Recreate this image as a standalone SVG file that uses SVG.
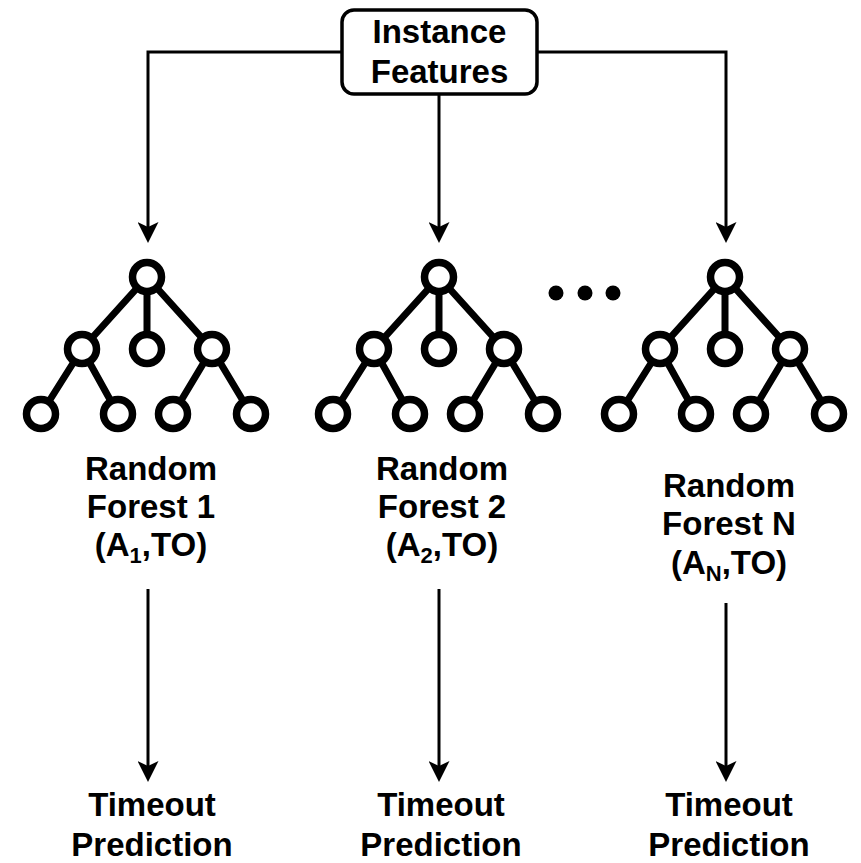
<svg xmlns="http://www.w3.org/2000/svg" xmlns:xlink="http://www.w3.org/1999/xlink" width="861" height="863" viewBox="0 0 861 863">
<style>
.lbl{font-family:"Liberation Sans",Arial,Helvetica,sans-serif;font-weight:bold;font-size:33px;fill:#000;text-anchor:middle}
.sub{font-size:22px}
.conn{fill:none;stroke:#000;stroke-width:3}
.edge{stroke:#000;stroke-width:7;stroke-linecap:round}
.nd{fill:#fff;stroke:#000;stroke-width:7.5}
.box{fill:#fff;stroke:#000;stroke-width:3.5}
</style>
<defs>
<marker id="arr" viewBox="0 0 21 21" markerWidth="21" markerHeight="21" refX="11" refY="10.5" orient="auto" markerUnits="userSpaceOnUse">
<path d="M0,0 L21,10.5 L0,21 L5,10.5 Z" fill="#000"/>
</marker>
<g id="tree">
<line class="edge" x1="0" y1="0" x2="-65" y2="72"/>
<line class="edge" x1="0" y1="0" x2="0" y2="72"/>
<line class="edge" x1="0" y1="0" x2="65" y2="72"/>
<line class="edge" x1="-65" y1="72" x2="-106" y2="137"/>
<line class="edge" x1="-65" y1="72" x2="-29" y2="137"/>
<line class="edge" x1="65" y1="72" x2="26" y2="137"/>
<line class="edge" x1="65" y1="72" x2="104" y2="137"/>
<circle class="nd" cx="0" cy="0" r="14.5"/>
<circle class="nd" cx="-65" cy="72" r="14.5"/>
<circle class="nd" cx="0" cy="72" r="14.5"/>
<circle class="nd" cx="65" cy="72" r="14.5"/>
<circle class="nd" cx="-106" cy="137" r="14.5"/>
<circle class="nd" cx="-29" cy="137" r="14.5"/>
<circle class="nd" cx="26" cy="137" r="14.5"/>
<circle class="nd" cx="104" cy="137" r="14.5"/>
</g>
</defs>
<rect width="861" height="863" fill="#fff"/>
<g id="connectors">
<path class="conn" d="M342,52 H148 V233" marker-end="url(#arr)"/>
<path class="conn" d="M439,94 V233" marker-end="url(#arr)"/>
<path class="conn" d="M537,52 H726 V233" marker-end="url(#arr)"/>
<path class="conn" d="M148,589 V772" marker-end="url(#arr)"/>
<path class="conn" d="M439,589 V772" marker-end="url(#arr)"/>
<path class="conn" d="M726,603 V772" marker-end="url(#arr)"/>
</g>
<g id="instance-features">
<rect class="box" x="342" y="10" width="195" height="84" rx="12" ry="12"/>
<text class="lbl" x="439.5" y="43">Instance</text>
<text class="lbl" x="439.5" y="83">Features</text>
</g>
<g id="forest1">
<use xlink:href="#tree" href="#tree" transform="translate(147,277)"/>
<text class="lbl" x="151" y="480">Random</text>
<text class="lbl" x="151" y="518">Forest 1</text>
<text class="lbl" x="151" y="556">(A<tspan class="sub" dy="7">1</tspan><tspan dy="-7">,TO)</tspan></text>
</g>
<g id="forest2">
<use xlink:href="#tree" href="#tree" transform="translate(439,277)"/>
<text class="lbl" x="442" y="480">Random</text>
<text class="lbl" x="442" y="518">Forest 2</text>
<text class="lbl" x="442" y="556">(A<tspan class="sub" dy="7">2</tspan><tspan dy="-7">,TO)</tspan></text>
</g>
<g id="ellipsis">
<circle cx="556" cy="293" r="7.5" fill="#000"/>
<circle cx="585" cy="293" r="7.5" fill="#000"/>
<circle cx="613" cy="293" r="7.5" fill="#000"/>
</g>
<g id="forestN">
<use xlink:href="#tree" href="#tree" transform="translate(725,277)"/>
<text class="lbl" x="729" y="497">Random</text>
<text class="lbl" x="729" y="535">Forest N</text>
<text class="lbl" x="729" y="574">(A<tspan class="sub" dy="7">N</tspan><tspan dy="-7">,TO)</tspan></text>
</g>
<g id="timeout1">
<text class="lbl" x="152" y="816">Timeout</text>
<text class="lbl" x="152" y="856">Prediction</text>
</g>
<g id="timeout2">
<text class="lbl" x="441" y="816">Timeout</text>
<text class="lbl" x="441" y="856">Prediction</text>
</g>
<g id="timeoutN">
<text class="lbl" x="729" y="816">Timeout</text>
<text class="lbl" x="729" y="856">Prediction</text>
</g>
</svg>
